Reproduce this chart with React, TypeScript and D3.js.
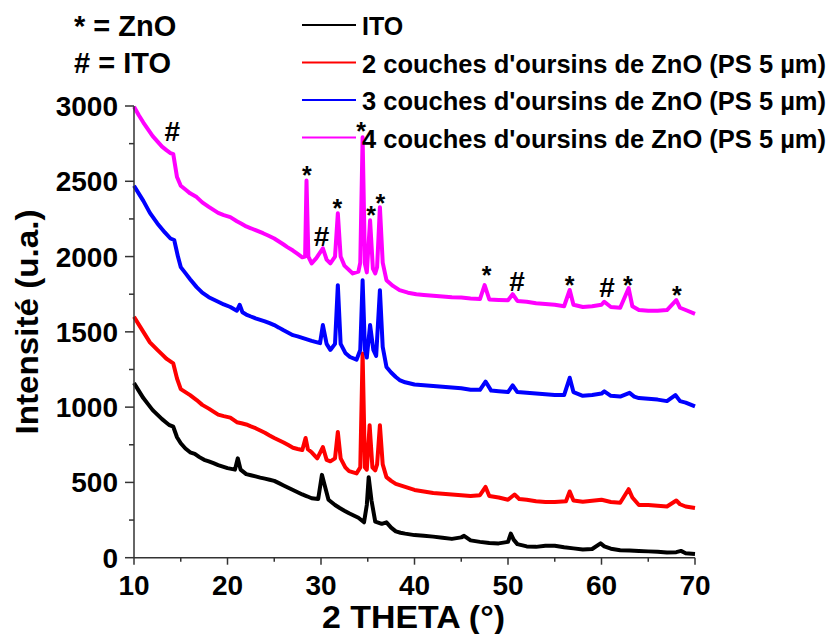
import React from "react";
import * as d3 from "d3";

const W = 831;
const H = 634;

const xTicks = [10, 20, 30, 40, 50, 60, 70];
const yTicks = [0, 500, 1000, 1500, 2000, 2500, 3000];

const seriesNames = [
  "ITO",
  "2 couches d'oursins de ZnO (PS 5 µm)",
  "3 couches d'oursins de ZnO (PS 5 µm)",
  "4 couches d'oursins de ZnO (PS 5 µm)",
];
const seriesColors = ["#000000", "#ff0000", "#0000ff", "#ff00ff"];

const ito: [number, number][] = [
  [10, 1160], [10.5, 1110], [11, 1060], [11.5, 1020], [12, 980], [12.5, 950], [13, 920], [13.5, 895], [13.8, 880], [14.2, 870],
  [14.6, 800], [15, 760], [15.5, 725], [16, 700], [16.5, 690], [17, 668], [17.5, 650], [18, 640], [18.5, 628], [19, 615],
  [19.5, 605], [20, 595], [20.8, 585], [21.1, 660], [21.4, 585], [22, 555], [22.5, 548], [23, 540], [23.5, 532], [24, 525],
  [24.5, 518], [25, 510], [25.5, 495], [26, 480], [26.5, 465], [27, 450], [27.5, 435], [28, 420], [28.5, 408], [29, 395],
  [29.7, 390], [30.1, 550], [30.4, 480], [30.8, 385], [31.5, 350], [32, 330], [32.5, 312], [33, 295], [33.5, 280], [34, 265],
  [34.6, 235], [34.9, 350], [35.1, 535], [35.4, 380], [35.8, 240], [36.5, 225], [37, 235], [37.5, 200], [38, 175], [38.5, 166],
  [39, 160], [40, 150], [41, 145], [42, 140], [43, 132], [44, 125], [45, 135], [45.3, 145], [46, 115], [47, 105],
  [48, 97], [49, 95], [50, 105], [50.3, 160], [50.6, 120], [51, 90], [52, 75], [53, 72], [54, 80], [55, 80],
  [56, 70], [57, 62], [58, 55], [59, 58], [59.9, 95], [60.3, 75], [61, 60], [62, 50], [63, 48], [64, 45],
  [65, 42], [66, 40], [67, 35], [68, 37], [68.5, 45], [69, 30], [70, 25],
];

const zno2: [number, number][] = [
  [10, 1600], [10.5, 1550], [11, 1500], [11.7, 1430], [12.5, 1380], [13, 1350], [13.5, 1320], [14.2, 1290], [14.6, 1190], [15, 1120],
  [15.5, 1100], [16, 1080], [16.7, 1047], [17.3, 1015], [18, 990], [18.5, 970], [19, 950], [19.6, 940], [20.3, 930], [21, 900],
  [21.5, 893], [22, 885], [22.5, 872], [23, 860], [23.5, 845], [24, 830], [24.5, 812], [25, 795], [25.5, 780], [26, 765],
  [26.5, 748], [27, 730], [27.5, 722], [28, 715], [28.35, 795], [28.6, 720], [29, 700], [29.6, 660], [30.2, 735], [30.6, 650],
  [31, 640], [31.5, 660], [31.8, 835], [32.1, 660], [32.6, 600], [33, 575], [33.8, 560], [34.2, 600], [34.45, 1357], [34.7, 600],
  [34.9, 585], [35.2, 880], [35.5, 600], [35.8, 580], [36, 620], [36.3, 880], [36.6, 620], [37, 535], [37.5, 510], [38, 490],
  [39, 470], [40, 450], [41, 440], [42, 430], [43, 425], [44, 420], [45, 415], [46, 410], [47, 415], [47.6, 470],
  [48, 410], [49, 400], [50, 385], [50.7, 420], [51.2, 390], [52, 385], [53, 375], [54, 370], [55, 370], [56.2, 375],
  [56.6, 440], [57, 380], [58, 372], [59, 378], [60, 385], [61, 370], [62, 365], [62.9, 455], [63.3, 400], [64, 350],
  [65, 350], [66, 345], [67, 340], [68, 380], [68.4, 355], [69, 340], [70, 330],
];

const zno3: [number, number][] = [
  [10, 2470], [10.5, 2420], [11, 2370], [11.7, 2290], [12.5, 2220], [13.3, 2160], [13.9, 2120], [14.3, 2110], [14.7, 2000], [15, 1930],
  [15.5, 1890], [16, 1850], [16.7, 1797], [17.3, 1760], [18, 1730], [18.5, 1715], [19, 1700], [19.6, 1682], [20.3, 1665], [21, 1640],
  [21.3, 1680], [21.6, 1630], [22, 1615], [22.5, 1602], [23, 1590], [23.5, 1580], [24, 1570], [24.5, 1558], [25, 1545], [25.5, 1528],
  [26, 1510], [26.5, 1494], [27, 1478], [27.5, 1470], [28, 1460], [28.5, 1450], [29, 1440], [29.9, 1425], [30.2, 1545], [30.6, 1420],
  [31, 1380], [31.5, 1420], [31.8, 1810], [32.1, 1420], [32.6, 1360], [33.1, 1333], [33.8, 1315], [34.2, 1380], [34.45, 1843], [34.7, 1380],
  [34.9, 1330], [35.25, 1545], [35.6, 1380], [35.9, 1340], [36.3, 1777], [36.6, 1400], [37, 1267], [37.5, 1230], [38, 1200], [38.4, 1180],
  [39, 1165], [40, 1150], [41, 1145], [42, 1140], [43, 1135], [44, 1130], [45, 1125], [46, 1115], [47, 1115], [47.6, 1170],
  [48.2, 1110], [49, 1105], [50, 1100], [50.5, 1145], [51, 1100], [52, 1095], [53, 1090], [54, 1085], [55, 1080], [56, 1080],
  [56.6, 1195], [57, 1100], [58, 1075], [59, 1080], [60, 1090], [60.3, 1105], [61, 1075], [62, 1070], [63, 1095], [63.5, 1070],
  [64, 1060], [65, 1055], [66, 1050], [67, 1040], [67.9, 1080], [68.4, 1040], [69, 1030], [70, 1005],
];

const zno4: [number, number][] = [
  [10, 2995], [10.5, 2940], [11, 2890], [11.5, 2845], [12, 2800], [12.5, 2765], [13, 2730], [13.5, 2705], [13.9, 2687], [14.2, 2680],
  [14.6, 2528], [15, 2470], [15.5, 2445], [16, 2420], [16.7, 2395], [17.3, 2360], [18, 2330], [18.5, 2310], [19, 2290], [19.6, 2275],
  [20.3, 2262], [21, 2235], [21.5, 2218], [22, 2200], [22.5, 2188], [23, 2175], [23.8, 2155], [24.4, 2138], [25, 2120], [25.5, 2100],
  [26, 2080], [26.4, 2063], [27, 2040], [27.5, 2018], [28, 1995], [28.3, 2000], [28.45, 2505], [28.65, 2000], [29, 1955], [29.5, 1990],
  [30.2, 2055], [30.6, 1980], [31, 1955], [31.5, 2000], [31.8, 2287], [32.1, 2000], [32.5, 1940], [33.4, 1888], [34, 1900], [34.2, 1960],
  [34.45, 2792], [34.7, 1950], [34.9, 1895], [35.25, 2241], [35.55, 1920], [35.8, 1888], [36, 1930], [36.3, 2328], [36.6, 1960], [37, 1843],
  [37.7, 1805], [38.4, 1777], [39.3, 1760], [40.2, 1750], [41, 1745], [42, 1740], [43, 1735], [44, 1730], [45, 1728], [46, 1722],
  [47, 1718], [47.5, 1810], [48, 1715], [49, 1712], [50, 1710], [50.5, 1750], [51, 1705], [52, 1700], [53, 1690], [54, 1685],
  [55, 1680], [56, 1670], [56.6, 1778], [57, 1680], [58, 1665], [59, 1670], [60, 1680], [60.3, 1700], [61, 1665], [62, 1660],
  [62.9, 1790], [63.3, 1670], [64, 1645], [65, 1640], [66, 1640], [67, 1645], [68, 1711], [68.4, 1660], [69, 1645], [70, 1620],
];

const seriesData = [ito, zno2, zno3, zno4];

// annotation markers: [2theta, intensity at baseline of glyph, symbol]
const annotations: [number, number, string][] = [
  [14.1, 2767, "#"],
  [28.5, 2481, "*"],
  [30.05, 2070, "#"],
  [31.76, 2262, "*"],
  [34.28, 2777, "*"],
  [35.35, 2216, "*"],
  [36.36, 2295, "*"],
  [47.7, 1817, "*"],
  [50.96, 1771, "#"],
  [56.58, 1751, "*"],
  [60.59, 1731, "#"],
  [62.83, 1751, "*"],
  [68.07, 1685, "*"],
];

const keyLines = ["* = ZnO", "# = ITO"];

export default function App() {
  const x = d3.scaleLinear().domain([10, 70]).range([134, 695]);
  const y = d3.scaleLinear().domain([0, 3000]).range([557.7, 106]);
  const line = d3
    .line<[number, number]>()
    .x((d) => x(d[0]))
    .y((d) => y(d[1]));

  const xMinor = d3.range(15, 70, 10);
  const yMinor = d3.range(250, 3000, 500);
  const font = "'Liberation Sans', Arial, sans-serif";
  const axisColor = "#333";

  return (
    <svg
      width={W}
      height={H}
      style={{ position: "absolute", left: 0, top: 0, background: "#fff" }}
      fontFamily={font}
      fontWeight="bold"
    >
      {/* data */}
      {seriesData.map((s, i) => (
        <path
          key={i}
          d={line(s) || ""}
          fill="none"
          stroke={seriesColors[i]}
          strokeWidth={4}
          strokeLinejoin="round"
        />
      ))}

      {/* axes */}
      <line x1={134} x2={134} y1={y(3000)} y2={y(0)} stroke={axisColor} strokeWidth={1.5} />
      <line x1={134} x2={695} y1={y(0)} y2={y(0)} stroke={axisColor} strokeWidth={1.5} />
      {yTicks.map((t) => (
        <g key={"yt" + t}>
          <line x1={125} x2={134} y1={y(t)} y2={y(t)} stroke={axisColor} strokeWidth={1.5} />
          <text x={118} y={y(t) + 10} textAnchor="end" fontSize={28} fill="#000">
            {t}
          </text>
        </g>
      ))}
      {yMinor.map((t) => (
        <line key={"ym" + t} x1={129} x2={134} y1={y(t)} y2={y(t)} stroke={axisColor} strokeWidth={1.5} />
      ))}
      {xTicks.map((t) => (
        <g key={"xt" + t}>
          <line x1={x(t)} x2={x(t)} y1={y(0)} y2={y(0) + 7} stroke={axisColor} strokeWidth={1.5} />
          <text x={x(t)} y={595} textAnchor="middle" fontSize={28} fill="#000">
            {t}
          </text>
        </g>
      ))}
      {xMinor.map((t) => (
        <line key={"xm" + t} x1={x(t)} x2={x(t)} y1={y(0)} y2={y(0) + 4} stroke={axisColor} strokeWidth={1.5} />
      ))}

      {/* axis titles */}
      <text x={322} y={628} fontSize={31} textLength={183} lengthAdjust="spacingAndGlyphs" fill="#000">
        2 THETA (°)
      </text>
      <text
        transform="translate(38,322) rotate(-90)"
        textAnchor="middle"
        fontSize={31}
        textLength={225}
        lengthAdjust="spacingAndGlyphs"
        fill="#000"
      >
        Intensité (u.a.)
      </text>

      {/* annotation markers */}
      {annotations.map(([a, b, s], i) => (
        <text
          key={"an" + i}
          x={x(a)}
          y={y(b)}
          textAnchor="middle"
          fontSize={s === "*" ? 25 : 28}
          fill="#000"
        >
          {s}
        </text>
      ))}

      {/* key */}
      {keyLines.map((k, i) => (
        <text key={"k" + i} x={74} y={36 + i * 37} fontSize={29} fill="#000">
          {k}
        </text>
      ))}

      {/* legend */}
      {seriesNames.map((n, i) => (
        <g key={"lg" + i}>
          <line x1={302} x2={356} y1={25 + i * 37.5} y2={25 + i * 37.5} stroke={seriesColors[i]} strokeWidth={2} />
          <text
            x={362}
            y={35 + i * 37.5}
            fontSize={25}
            fill="#000"
            {...(i > 0 ? { textLength: 464, lengthAdjust: "spacingAndGlyphs" } : {})}
          >
            {n}
          </text>
        </g>
      ))}
    </svg>
  );
}
